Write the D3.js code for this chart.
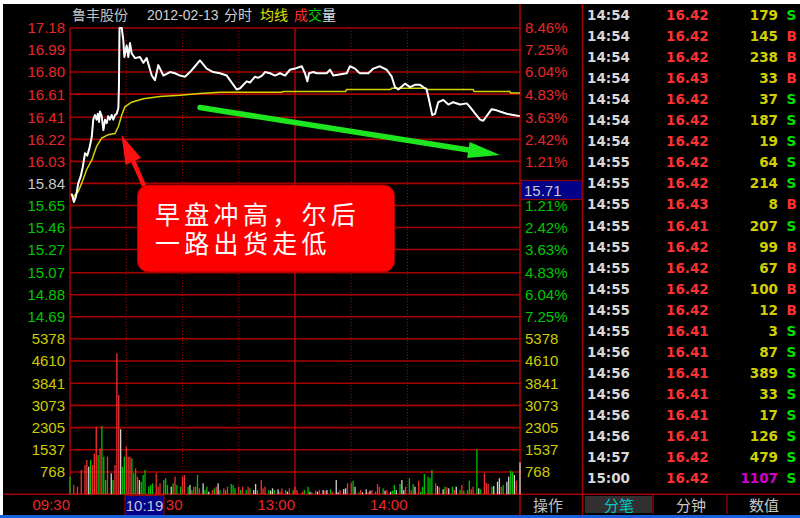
<!DOCTYPE html>
<html><head><meta charset="utf-8">
<script src="https://cdn.jsdelivr.net/npm/d3@7"></script>
<style>
html,body{margin:0;padding:0;background:#fff;}
svg{display:block;}
</style></head><body>
<svg id="c" width="800" height="518"></svg>
<script>
// ---------------- data ----------------
const stockName = "鲁丰股份";
const dateLabel = "2012-02-13 分时";
const prevClose = 15.84;
const priceTicks = [17.18,16.99,16.80,16.61,16.41,16.22,16.03,15.84,15.65,15.46,15.27,15.07,14.88,14.69];
const pctTicks = ["8.46%","7.25%","6.04%","4.83%","3.63%","2.42%","1.21%","0.00%","1.21%","2.42%","3.63%","4.83%","6.04%","7.25%"];
const volTicks = [5378,4610,3841,3073,2305,1537,768];
const timeTickMinutes = [0,60,120,180];
const timeTickLabels = ["09:30","10:30","13:00","14:00"];
const gridMinutes = [30,60,90,150,180,210];
const cursorPrice = "15.71";
const cursorTime = "10:19";

// minute offset from 09:30 (0..240), price
const priceSeries = [
 [0.9,15.75],[2.1,15.68],[3.2,15.73],[4.4,15.84],[5.7,15.90],[6.8,15.98],[8,16.10],[9.2,16.08],[10.3,16.14],
 [11.6,16.24],[12.4,16.39],[13.3,16.43],[14.2,16.39],[14.8,16.44],[15.5,16.37],[16,16.46],[16.9,16.42],
 [17.8,16.30],[18.7,16.39],[19.6,16.36],[20.4,16.42],[21.3,16.39],[22.2,16.43],[23.1,16.39],[24,16.43],
 [24.9,16.44],[25.8,16.49],[26.1,16.67],[26.4,17.18],[27.6,17.18],[28.4,17.08],[29,16.93],[30.2,17.03],
 [31.1,16.93],[32,17.05],[32.9,16.96],[34.7,16.92],[37.3,16.93],[39.1,16.88],[40.9,16.92],[43.6,16.77],
 [45.3,16.73],[47.1,16.86],[48,16.83],[49.8,16.77],[53.3,16.80],[56,16.79],[58.7,16.77],[61.3,16.76],
 [64,16.80],[66.7,16.85],[69.3,16.90],[72.9,16.83],[76.4,16.80],[80,16.79],[83.6,16.77],[88.9,16.65],
 [90.7,16.66],[94.2,16.72],[96,16.71],[98.7,16.76],[100.3,16.75],[102.4,16.77],[104,16.80],[106.7,16.79],
 [109.3,16.77],[112,16.79],[114.7,16.77],[117.3,16.82],[120,16.83],[123.6,16.85],[125.3,16.79],[126.6,16.72],
 [127.5,16.79],[129.8,16.80],[131.6,16.79],[136.9,16.79],[138.7,16.82],[140.4,16.77],[147.6,16.79],[149.3,16.85],
 [152,16.83],[153.8,16.80],[154.7,16.79],[159.1,16.79],[161.8,16.83],[165.3,16.85],[168.9,16.82],[171.6,16.76],
 [173.3,16.67],[175.1,16.65],[178.7,16.70],[181.3,16.67],[184,16.69],[186.7,16.69],[189.3,16.66],[190.2,16.65],
 [191.5,16.56],[193.2,16.43],[194.7,16.44],[196.4,16.54],[199.1,16.56],[201.8,16.52],[204.4,16.54],[208,16.52],
 [211.6,16.53],[213.3,16.50],[216.2,16.44],[218.7,16.39],[220.4,16.38],[222.2,16.42],[224.9,16.48],[227.5,16.47],
 [229.3,16.46],[232.9,16.44],[236.4,16.43],[240,16.42]
];
const avgSeries = [
 [0.5,15.75],[1.8,15.725],[4.4,15.77],[6.2,15.84],[8.9,15.96],[11.6,16.04],[14.2,16.16],[16.9,16.23],
 [20.4,16.26],[24,16.27],[25.8,16.33],[27.6,16.43],[29.3,16.50],[32.9,16.54],[39.1,16.57],[48,16.59],
 [58.7,16.60],[69.3,16.615],[80,16.625],[113,16.625],[113.5,16.632],[147,16.632],[147.5,16.65],[171,16.65],
 [171.5,16.66],[190,16.66],[190.5,16.65],[215,16.65],[215.5,16.632],[234.5,16.632],[235,16.62],[240,16.62]
];
// volume bars: minute, volume (lots), direction (1 up/red, -1 down/green, 0 flat/white)
const volMinutes = [0,2,4,6,8,9,10,11,12,13,14,15,16,17,18,19,20,22,23,24,25,26,27,28,29,30,31,32,33,34,35,36,37,38,39,40,
 42,43,44,46,47,48,50,51,52,54,55,56,57,59,60,61,63,64,65,66,67,68,69,71,72,73,74,76,77,78,79,80,82,83,84,86,87,88,90,91,92,
 94,95,96,98,99,100,102,103,104,106,107,108,109,111,112,113,115,116,117,119,120,121,
 124,125,127,128,129,131,132,133,135,136,137,139,140,142,143,144,146,147,148,150,151,152,154,155,156,158,159,160,161,163,
 164,165,167,168,169,171,172,173,174,176,177,178,179,181,182,183,184,186,187,188,189,191,192,193,195,196,197,199,200,201,
 202,204,205,206,208,209,210,212,213,214,215,217,218,219,221,222,223,225,226,228,229,230,231,233,234,235,236,237,238,240];
const volValues = [606,318,260,837,1010,1183,952,1183,1010,1415,2336,1356,1588,2360,1298,491,1298,723,491,1010,4875,3432,2246,952,1298,1644,1298,1298,1242,723,896,606,491,433,664,837,
 260,318,377,723,260,377,491,550,318,260,377,606,318,260,606,664,260,318,145,260,260,664,204,377,145,260,87,145,204,260,377,145,204,145,260,353,318,204,260,145,260,
 145,260,204,145,353,145,491,204,260,145,121,204,145,170,87,204,145,87,204,145,260,145,
 87,145,260,87,66,121,87,145,145,121,145,170,87,491,66,145,180,204,377,398,467,260,66,145,66,170,66,121,145,87,
 353,260,204,121,145,87,121,318,145,353,491,145,260,550,145,353,260,467,87,260,699,606,550,837,377,284,239,170,260,239,
 204,260,145,260,145,318,121,145,467,170,260,1553,204,170,723,398,353,260,284,433,550,260,318,433,606,813,778,664,467,1107];
const volDirs = [-1,1,1,1,1,1,0,-1,1,1,1,-1,1,-1,-1,-1,1,0,-1,1,1,1,0,-1,-1,1,1,1,-1,-1,1,1,0,-1,-1,-1,
 -1,-1,-1,1,1,1,-1,-1,-1,0,-1,1,-1,-1,1,1,-1,0,-1,1,-1,-1,1,0,-1,-1,0,1,-1,1,0,-1,1,-1,1,-1,-1,-1,1,-1,1,
 -1,1,-1,0,0,-1,1,1,1,-1,0,0,-1,0,1,1,-1,0,1,-1,1,1,
 1,-1,-1,0,-1,1,0,1,0,1,0,-1,1,0,0,1,0,0,1,1,-1,0,-1,1,0,0,1,0,1,-1,
 1,1,-1,0,1,0,-1,-1,0,-1,0,0,1,-1,1,-1,0,1,-1,-1,-1,-1,-1,-1,1,0,1,0,-1,1,
 0,-1,1,0,-1,1,-1,-1,-1,1,1,-1,0,-1,1,1,1,-1,0,0,0,1,-1,0,0,-1,-1,0,1,0];

// tick-by-tick table
const tradeTimes = ["14:54","14:54","14:54","14:54","14:54","14:54","14:54","14:55","14:55","14:55","14:55","14:55","14:55","14:55","14:55","14:55","14:56","14:56","14:56","14:56","14:56","14:57","15:00"];
const tradePrices = ["16.42","16.42","16.42","16.43","16.42","16.42","16.42","16.42","16.42","16.43","16.41","16.42","16.42","16.42","16.42","16.41","16.41","16.41","16.41","16.41","16.41","16.42","16.42"];
const tradeVols = [179,145,238,33,37,187,19,64,214,8,207,99,67,100,12,3,87,389,33,17,126,479,1107];
const tradeSides = ["S","B","B","B","S","S","S","S","S","B","S","B","B","B","B","S","S","S","S","S","S","S","S"];
const tabLabels = ["分笔","分钟","数值"];
const noteLines = ["早盘冲高，尔后","一路出货走低"];

// ---------------- drawing ----------------
const svg = d3.select("#c");
const X0 = 70, X1 = 520, Y0 = 28, STEP = 22.2;
const GRID = "#a80000";
const RED = "#e82828", GREEN = "#00c800", YEL = "#cccc00", GRAY = "#c8c8c8";
const AX = "'Liberation Sans', Arial, sans-serif";
const CJK = "'Noto Sans CJK SC', sans-serif";

svg.append("rect").attr("x",3).attr("y",4).attr("width",797).attr("height",514).attr("fill","#000");

const x = d3.scaleLinear().domain([0,240]).range([X0,X1]);
const pTop = priceTicks[0];
const pBot = 2*prevClose - pTop;
const yP = d3.scaleLinear().domain([pBot,pTop]).range([Y0+14*STEP, Y0]);
const yV = d3.scaleLinear().domain([0, volTicks[0]]).range([Y0+21*STEP, Y0+14*STEP]);

const g = svg.append("g");
// horizontal grid lines
const hLines = priceTicks.map(p=>yP(p)).concat(volTicks.map(v=>yV(v))).concat([yV(0)]);
g.selectAll("line.h").data(hLines).join("line")
  .attr("x1",X0).attr("x2",X1).attr("y1",d=>d).attr("y2",d=>d)
  .attr("stroke",GRID).attr("stroke-width",1.6);
// vertical dotted lines
g.selectAll("line.v").data(gridMinutes).join("line")
  .attr("x1",d=>x(d)).attr("x2",d=>x(d)).attr("y1",Y0).attr("y2",yV(0))
  .attr("stroke",GRID).attr("stroke-width",1).attr("stroke-dasharray","1,2");
// solid verticals
[[x(0),Y0,yV(0)],[x(120),Y0,yV(0)],[x(240),4,516],[582.5,4,516]].forEach(([xx,a,b])=>{
  g.append("line").attr("x1",xx).attr("x2",xx).attr("y1",a).attr("y2",b).attr("stroke",GRID).attr("stroke-width",1.6);
});
g.append("line").attr("x1",3).attr("x2",800).attr("y1",yV(0)).attr("y2",yV(0)).attr("stroke",GRID).attr("stroke-width",1.6);
g.append("line").attr("x1",653).attr("x2",653).attr("y1",yV(0)).attr("y2",514).attr("stroke",GRID).attr("stroke-width",1.2);
g.append("line").attr("x1",727).attr("x2",727).attr("y1",yV(0)).attr("y2",514).attr("stroke",GRID).attr("stroke-width",1.2);

// left price labels
svg.selectAll("text.pl").data(priceTicks).join("text")
  .attr("x",65).attr("y",d=>yP(d)).attr("dy","0.36em").attr("text-anchor","end")
  .attr("font-family",AX).attr("font-size",15)
  .attr("fill",d=> d>prevClose?RED:(d<prevClose?GREEN:GRAY)).text(d=>d.toFixed(2));
// right pct labels (the 0.00% one sits under the cursor box, so it is not drawn)
svg.selectAll("text.pr").data(pctTicks.map((t,i)=>({t,i})).filter(d=>d.i!==7)).join("text")
  .attr("x",525).attr("y",d=>yP(priceTicks[d.i])).attr("dy","0.36em")
  .attr("font-family",AX).attr("font-size",15)
  .attr("fill",d=> d.i<7?RED:GREEN).text(d=>d.t);
// volume labels
[["l",65,"end"],["r",525,"start"]].forEach(([k,xx,anc])=>{
  svg.selectAll("text.v"+k).data(volTicks).join("text")
    .attr("x",xx).attr("y",d=>yV(d)).attr("dy","0.36em").attr("text-anchor",anc)
    .attr("font-family",AX).attr("font-size",15).attr("fill",YEL).text(d=>d);
});
// time labels (10:30 is partly hidden under the cursor box: clip it)
svg.append("clipPath").attr("id","tclip").append("rect").attr("x",164.5).attr("y",494).attr("width",60).attr("height",24);
svg.selectAll("text.t").data(timeTickMinutes).join("text")
  .attr("x",d=>x(d)).attr("y",510).attr("text-anchor","end")
  .attr("font-family",AX).attr("font-size",15).attr("fill",RED)
  .attr("clip-path",(d,i)=> i===1?"url(#tclip)":null)
  .text((d,i)=>timeTickLabels[i]);

// volume bars
const dirColor = d => d>0 ? "#f03030" : (d<0 ? "#00c000" : "#d0d0d0");
svg.append("g").selectAll("rect").data(volMinutes).join("rect")
  .attr("x",(d)=>x(d)-0.65).attr("width",1.3)
  .attr("y",(d,i)=>yV(volValues[i])).attr("height",(d,i)=>yV(0)-yV(volValues[i]))
  .attr("fill",(d,i)=>dirColor(volDirs[i]));

// average line
svg.append("path").datum(avgSeries)
  .attr("d",d3.line().x(d=>x(d[0])).y(d=>yP(d[1])))
  .attr("fill","none").attr("stroke","#d4d400").attr("stroke-width",1.5);
// price line
svg.append("path").datum(priceSeries)
  .attr("d",d3.line().x(d=>x(d[0])).y(d=>yP(d[1])))
  .attr("fill","none").attr("stroke","#ffffff").attr("stroke-width",2).attr("stroke-linejoin","round");

// arrows
function arrow(x1,y1,x2,y2,color,w,hl,hw){
  const dx=x2-x1, dy=y2-y1, L=Math.hypot(dx,dy), ux=dx/L, uy=dy/L;
  const bx=x2-ux*hl, by=y2-uy*hl;
  svg.append("line").attr("x1",x1).attr("y1",y1).attr("x2",bx+ux*2).attr("y2",by+uy*2)
    .attr("stroke",color).attr("stroke-width",w).attr("stroke-linecap","round");
  svg.append("path").attr("d",`M${x2},${y2}L${bx-uy*hw},${by+ux*hw}L${bx+uy*hw},${by-ux*hw}Z`).attr("fill",color);
}
arrow(200,107.5,500,155,"#1ee61e",5.5,32,8);
arrow(146,190,121.5,135,"#ff1010",4.5,29,8.5);

// callout
svg.append("rect").attr("x",137.5).attr("y",185).attr("width",257).attr("height",87).attr("rx",11)
  .attr("fill","#ff0000").attr("stroke","#b00000").attr("stroke-width",1);
svg.selectAll("text.note").data(noteLines).join("text")
  .attr("x",155).attr("y",(d,i)=>224+i*28.5)
  .attr("font-family",CJK).attr("font-size",25).attr("letter-spacing",4.3)
  .attr("fill","#ffffff").text(d=>d);

// header
svg.append("text").attr("x",72).attr("y",20).attr("font-family",CJK).attr("font-size",14).attr("fill","#c0c0c0").text(stockName);
svg.append("text").attr("x",147).attr("y",20).attr("font-family",AX).attr("font-size",14).attr("fill","#d0d0d0").text(dateLabel.split(" ")[0]);
svg.append("text").attr("x",224).attr("y",20).attr("font-family",CJK).attr("font-size",14).attr("fill","#d0d0d0").text(dateLabel.split(" ")[1]);
[["均线",260,"#e0e000"],["成",294,"#ff3030"],["交",308,"#00d000"],["量",322,"#e0e0e0"]].forEach(([t,xx,c])=>{
  svg.append("text").attr("x",xx).attr("y",20).attr("font-family",CJK).attr("font-size",14).attr("fill",c).text(t);
});

// cursor boxes
svg.append("rect").attr("x",521).attr("y",180.5).attr("width",61).attr("height",19).attr("fill","#000088").attr("stroke","#900000").attr("stroke-width",1.2);
svg.append("text").attr("x",524).attr("y",196).attr("font-family",AX).attr("font-size",15).attr("fill","#c8c8d8").text(cursorPrice);
svg.append("rect").attr("x",125).attr("y",495.5).attr("width",39).attr("height",20).attr("fill","#000088").attr("stroke","#900000").attr("stroke-width",1.2);
svg.append("text").attr("x",144.5).attr("y",511).attr("text-anchor","middle").attr("font-family",AX).attr("font-size",15).attr("fill","#c8c8d8").text(cursorTime);

// trade table
const TF = "'DejaVu Sans', sans-serif";
const rowY = i => 20 + i*21.05;
const tbl = svg.append("g").attr("font-family",TF).attr("font-size",13.5).attr("font-weight","bold");
tradeTimes.forEach((t,i)=>{
  tbl.append("text").attr("x",587).attr("y",rowY(i)).attr("fill","#d8d8d8").text(t);
  tbl.append("text").attr("x",666).attr("y",rowY(i)).attr("fill","#ff3030").text(tradePrices[i]);
  tbl.append("text").attr("x",778).attr("y",rowY(i)).attr("text-anchor","end")
    .attr("fill",tradeVols[i]>=1000?"#d000d0":"#d0d000").text(tradeVols[i]);
  tbl.append("text").attr("x",786.5).attr("y",rowY(i)).attr("fill",tradeSides[i]==="S"?"#00e000":"#ff3030").text(tradeSides[i]);
});

// bottom tabs
svg.append("rect").attr("x",585).attr("y",496).attr("width",67).attr("height",17).attr("fill","#303030");
[[619,"#00c8c8"],[691,"#c8c8c8"],[764,"#c8c8c8"]].forEach(([xx,c],i)=>{
  svg.append("text").attr("x",xx).attr("y",510.5).attr("text-anchor","middle").attr("font-family",CJK).attr("font-size",15).attr("fill",c).text(tabLabels[i]);
});
svg.append("text").attr("x",548).attr("y",510.5).attr("text-anchor","middle").attr("font-family",CJK).attr("font-size",15).attr("fill","#c0c0c0").text("操作");
svg.append("rect").attr("x",0).attr("y",515).attr("width",800).attr("height",3).attr("fill","#1a5fd8");
</script>
</body></html>
